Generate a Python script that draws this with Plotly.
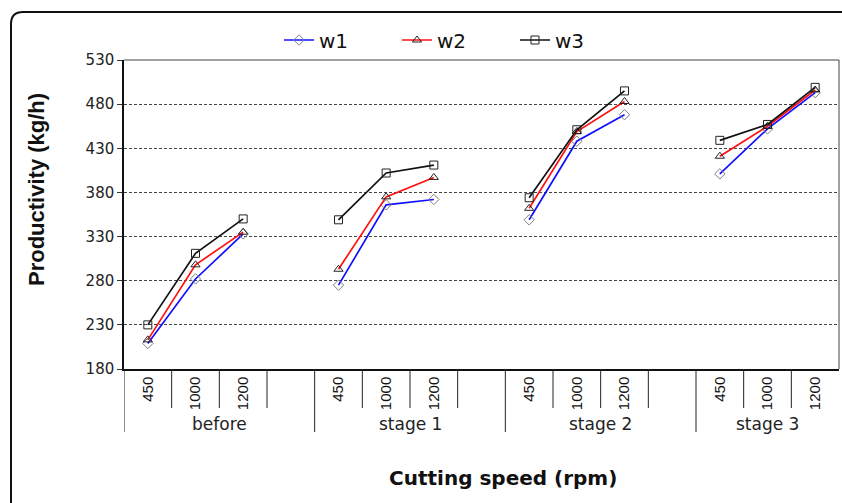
import plotly.graph_objects as go

# Categories
stages = ["before", "stage 1", "stage 2", "stage 3"]
speeds = ["450", "1000", "1200"]

# Productivity (kg/h) per stage, ordered by cutting speed 450 / 1000 / 1200 rpm
w1 = [209, 282, 333, 275, 366, 372, 349, 438, 468, 401, 452, 493]
w2 = [213, 298, 335, 293, 375, 397, 362, 449, 483, 421, 455, 496]
w3 = [230, 311, 350, 349, 402, 411, 374, 451, 495, 439, 457, 499]

# Each stage block holds 3 speed slots plus one empty spacer slot
SLOTS_PER_GROUP = 4
n_slots = SLOTS_PER_GROUP * (len(stages) - 1) + len(speeds)
xpos = [g * SLOTS_PER_GROUP + i + 0.5 for g in range(len(stages)) for i in range(len(speeds))]

W, H = 842, 503
ML, MR, MT, MB = 124, 3, 60, 134
PW, PH = W - ML - MR, H - MT - MB

WIDE = "DejaVu Sans, Verdana, sans-serif"
ARIAL = "Arial, Liberation Sans, sans-serif"


def px(x):
    return (x - ML) / PW


def py(y):
    return 1 - (y - MT) / PH


series = [
    ("w1", w1, "#1010ff", "diamond-open", "#808080"),
    ("w2", w2, "#ff1010", "triangle-up-open", "#222222"),
    ("w3", w3, "#111111", "square-open", "#222222"),
]

fig = go.Figure()
for name, vals, col, sym, mcol in series:
    for g in range(len(stages)):
        sl = slice(g * 3, g * 3 + 3)
        fig.add_trace(go.Scatter(
            x=xpos[sl], y=vals[sl], mode="lines+markers", name=name,
            legendgroup=name, showlegend=(g == 0),
            line=dict(color=col, width=1.7),
            marker=dict(symbol=sym, size=8, color=mcol, line=dict(width=1)),
        ))

shapes = []
# Rounded outer frame
x0, y0, x1, y1, r = px(11), py(12), px(845), py(506), 12
rx, ry = r / PW, r / PH
shapes.append(dict(
    type="path", xref="paper", yref="paper",
    path=(f"M {x0} {y1} L {x0} {y0 - ry} Q {x0} {y0} {x0 + rx} {y0} "
          f"L {x1} {y0} L {x1} {y1}"),
    line=dict(color="#111111", width=2),
))
# Plot area border (top and right)
shapes.append(dict(type="line", xref="paper", yref="paper", x0=0, x1=1, y0=1, y1=1,
                   line=dict(color="#444444", width=1)))
shapes.append(dict(type="line", xref="paper", yref="paper", x0=1, x1=1, y0=0, y1=1,
                   line=dict(color="#444444", width=1)))
# Category separators below the axis
for k in range(n_slots):
    long = k % SLOTS_PER_GROUP == 0
    shapes.append(dict(
        type="line", xref="x", yref="paper", x0=k, x1=k,
        y0=0, y1=py(432 if long else 408),
        line=dict(color="#222222", width=1),
    ))

annotations = []
for g, s in enumerate(stages):
    start = g * SLOTS_PER_GROUP
    end = min(start + SLOTS_PER_GROUP, n_slots)
    annotations.append(dict(
        x=(start + end) / 2, y=py(424), xref="x", yref="paper", text=s,
        showarrow=False, font=dict(family=WIDE, size=17, color="#222222"),
        xanchor="center", yanchor="middle",
    ))
annotations.append(dict(
    x=px(503), y=py(478), xref="paper", yref="paper", text="<b>Cutting speed (rpm)</b>",
    showarrow=False, font=dict(family=WIDE, size=20, color="#111111"),
    xanchor="center", yanchor="middle",
))
annotations.append(dict(
    x=px(36), y=py(190), xref="paper", yref="paper", text="<b>Productivity (kg/h)</b>",
    showarrow=False, textangle=-90,
    font=dict(family=ARIAL, size=22, color="#111111"),
    xanchor="center", yanchor="middle",
))

fig.update_layout(
    width=W, height=H,
    margin=dict(l=ML, r=MR, t=MT, b=MB),
    paper_bgcolor="white", plot_bgcolor="white",
    shapes=shapes, annotations=annotations,
    showlegend=True,
    legend=dict(orientation="h", x=px(456), y=py(40), xanchor="center", yanchor="middle",
                font=dict(family=WIDE, size=20, color="#111111"),
                entrywidth=73, entrywidthmode="pixels",
                bgcolor="rgba(0,0,0,0)", tracegroupgap=0),
    xaxis=dict(range=[0, n_slots], tickmode="array", tickvals=xpos,
               ticktext=[sp for _ in stages for sp in speeds], tickangle=-90,
               ticks="", showgrid=False, zeroline=False,
               showline=True, linecolor="#111111", linewidth=1.5,
               tickfont=dict(family=ARIAL, size=15, color="#111111")),
    yaxis=dict(range=[180, 530], dtick=50, tick0=180, ticks="outside", ticklen=5,
               tickcolor="#333333", showline=True, linecolor="#111111", linewidth=1.5,
               showgrid=True, gridcolor="#444444", griddash="3px,2px", gridwidth=1,
               zeroline=False,
               tickfont=dict(family=WIDE, size=15, color="#222222")),
)

fig.write_html("out.html")
